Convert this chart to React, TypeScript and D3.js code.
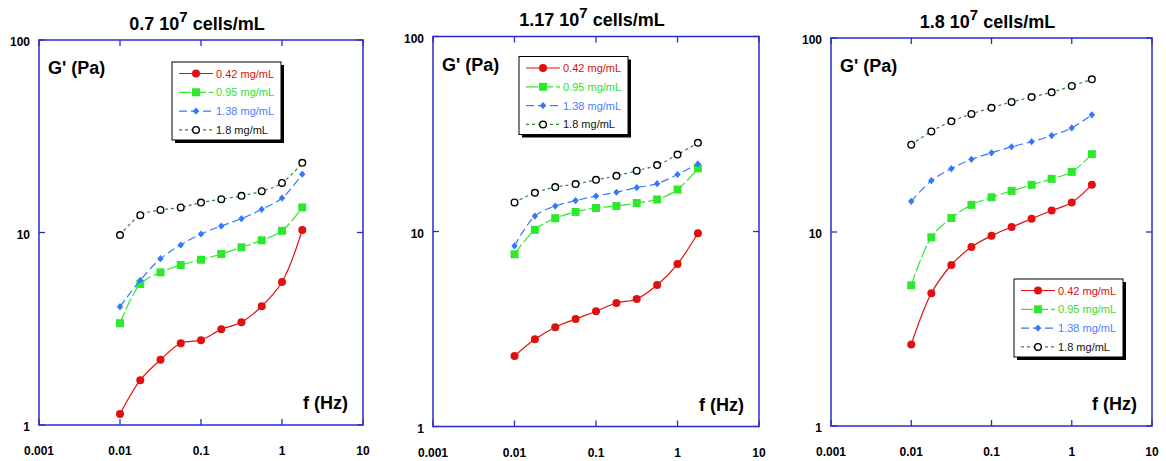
import React from 'react';
import * as d3 from 'd3';

// frequencies (Hz), shared by every series
const freq = [0.01, 0.0178, 0.0316, 0.0562, 0.1, 0.178, 0.316, 0.562, 1, 1.78];

const concentrations = ['0.42 mg/mL', '0.95 mg/mL', '1.38 mg/mL', '1.8 mg/mL'];
const cellDensities = ['0.7', '1.17', '1.8'];

// G' (Pa), one array per panel and concentration
const p1c042 = [1.14, 1.71, 2.18, 2.66, 2.76, 3.14, 3.42, 4.14, 5.53, 10.3];
const p1c095 = [3.38, 5.4, 6.21, 6.78, 7.22, 7.73, 8.38, 9.11, 10.2, 13.5];
const p1c138 = [4.12, 5.65, 7.31, 8.61, 9.82, 10.8, 11.8, 13.2, 15.1, 20.1];
const p1c180 = [9.7, 12.3, 13.1, 13.5, 14.3, 14.9, 15.5, 16.4, 18.1, 23.0];

const p2c042 = [2.3, 2.8, 3.23, 3.56, 3.9, 4.3, 4.51, 5.32, 6.81, 9.79];
const p2c095 = [7.64, 10.2, 11.7, 12.6, 13.2, 13.5, 14.0, 14.6, 16.4, 21.1];
const p2c138 = [8.43, 12.0, 13.5, 14.4, 15.2, 15.9, 16.8, 17.6, 19.6, 22.2];
const p2c180 = [14.1, 15.8, 16.9, 17.5, 18.4, 19.3, 20.5, 21.9, 24.8, 28.5];

const p3c042 = [2.63, 4.83, 6.76, 8.37, 9.57, 10.6, 11.7, 12.9, 14.2, 17.5];
const p3c095 = [5.31, 9.39, 11.8, 13.8, 15.1, 16.3, 17.5, 18.8, 20.4, 25.2];
const p3c138 = [14.4, 18.4, 21.2, 23.7, 25.6, 27.5, 29.2, 31.4, 34.4, 40.2];
const p3c180 = [28.2, 33.0, 37.2, 40.6, 43.7, 46.8, 49.6, 52.5, 56.6, 61.2];

const panelData = [
  [p1c042, p1c095, p1c138, p1c180],
  [p2c042, p2c095, p2c138, p2c180],
  [p3c042, p3c095, p3c138, p3c180],
];

const xTicks = [0.001, 0.01, 0.1, 1, 10];
const xTickLabels = ['0.001', '0.01', '0.1', '1', '10'];
const yTicks = [1, 10, 100];
const yTickLabels = ['1', '10', '100'];

// layout of the three frames and their legends
const panels = [
  { left: 39, right: 363, top: 40, bottom: 425, legX: 133, legY: 22 },
  { left: 433, right: 759, top: 36.5, bottom: 426.5, legX: 86, legY: 20 },
  { left: 831, right: 1152, top: 38, bottom: 426, legX: 183, legY: 241 },
];

const seriesStyle = [
  { line: '#e01010', text: '#e01010', dash: null, marker: 'circle' },
  { line: '#2ee82e', text: '#33dd33', dash: '12,3', marker: 'square' },
  { line: '#3377ff', text: '#4a80ff', dash: '8,4', marker: 'diamond' },
  { line: '#1f8f2a', text: '#111', dash: '3,3', marker: 'open' },
];

const frameColor = '#2a2ad4';
const font = '"Liberation Sans", Arial, sans-serif';

const Marker = ({ type, x, y, color }) => {
  if (type === 'circle') return <circle cx={x} cy={y} r={4} fill={color} />;
  if (type === 'square') return <rect x={x - 4} y={y - 4} width={8} height={8} fill={color} />;
  if (type === 'diamond')
    return <path d={`M${x},${y - 3.6}L${x + 3.2},${y}L${x},${y + 3.6}L${x - 3.2},${y}Z`} fill={color} />;
  return <circle cx={x} cy={y} r={3.3} fill="#fff" stroke="#000" strokeWidth={1.4} />;
};

const Panel = ({ p, idx }) => {
  const x = d3.scaleLog().domain([0.001, 10]).range([p.left, p.right]);
  const y = d3.scaleLog().domain([1, 100]).range([p.bottom, p.top]);
  const line = d3
    .line()
    .x((d) => d[0])
    .y((d) => d[1])
    .curve(d3.curveCatmullRom.alpha(0.5));
  const cx = (p.left + p.right) / 2 - 4;
  const lx = p.left + p.legX;
  const ly = p.top + p.legY;

  return (
    <g>
      <text x={cx} y={p.top - 10.5} textAnchor="middle" fontFamily={font} fontWeight="bold" fontSize={18}>
        <tspan>{cellDensities[idx]} 10</tspan>
        <tspan dy={-8} fontSize={15}>7</tspan>
        <tspan dy={8}> cells/mL</tspan>
      </text>

      {/* series */}
      {panelData[idx].map((vals, si) => {
        const st = seriesStyle[si];
        const pts = vals.map((v, i) => [x(freq[i]), y(v)]);
        return (
          <g key={si}>
            <path
              d={line(pts)}
              fill="none"
              stroke={st.line}
              strokeWidth={1.2}
              strokeDasharray={st.dash || undefined}
            />
            {pts.map((pt, i) => (
              <Marker key={i} type={st.marker} x={pt[0]} y={pt[1]} color={st.line} />
            ))}
          </g>
        );
      })}

      {/* frame and ticks */}
      <rect
        x={p.left}
        y={p.top}
        width={p.right - p.left}
        height={p.bottom - p.top}
        fill="none"
        stroke={frameColor}
        strokeWidth={1.5}
      />
      {xTicks.map((t, i) => (
        <g key={'x' + i}>
          <line x1={x(t)} x2={x(t)} y1={p.bottom} y2={p.bottom - 6} stroke={frameColor} strokeWidth={1.3} />
          <line x1={x(t)} x2={x(t)} y1={p.top} y2={p.top + 6} stroke={frameColor} strokeWidth={1.3} />
          <text x={x(t)} y={p.bottom + 30} textAnchor="middle" fontFamily={font} fontWeight="bold" fontSize={12}>
            {xTickLabels[i]}
          </text>
        </g>
      ))}
      {yTicks.map((t, i) => (
        <g key={'y' + i}>
          <line x1={p.left} x2={p.left + 6} y1={y(t)} y2={y(t)} stroke={frameColor} strokeWidth={1.3} />
          <line x1={p.right} x2={p.right - 6} y1={y(t)} y2={y(t)} stroke={frameColor} strokeWidth={1.3} />
          <text x={p.left - 9} y={y(t) + 6} textAnchor="end" fontFamily={font} fontWeight="bold" fontSize={12}>
            {yTickLabels[i]}
          </text>
        </g>
      ))}

      <text x={p.left + 9} y={p.top + 34} fontFamily={font} fontWeight="bold" fontSize={18}>
        G' (Pa)
      </text>
      <text x={p.right - 15} y={p.bottom - 16} textAnchor="end" fontFamily={font} fontWeight="bold" fontSize={18}>
        f (Hz)
      </text>

      {/* legend */}
      <rect x={lx + 3} y={ly + 3} width={109} height={78} fill="#000" />
      <rect x={lx} y={ly} width={109} height={78} fill="#fff" stroke="#000" strokeWidth={1} />
      {concentrations.map((c, si) => {
        const st = seriesStyle[si];
        const ry = ly + 11.5 + si * 18.8;
        return (
          <g key={si}>
            <line
              x1={lx + 7}
              x2={lx + 41}
              y1={ry}
              y2={ry}
              stroke={st.line}
              strokeWidth={1.2}
              strokeDasharray={st.dash || undefined}
            />
            <Marker type={st.marker} x={lx + 24} y={ry} color={st.line} />
            <text x={lx + 44} y={ry + 4} fontFamily={font} fontSize={11} fill={st.text}>
              {c}
            </text>
          </g>
        );
      })}
    </g>
  );
};

const App = () => {
  return (
    <svg
      width={1166}
      height={461}
      style={{ position: 'absolute', left: 0, top: 0, background: '#fff' }}
    >
      {panels.map((p, i) => (
        <Panel key={i} p={p} idx={i} />
      ))}
    </svg>
  );
};

export default App;
